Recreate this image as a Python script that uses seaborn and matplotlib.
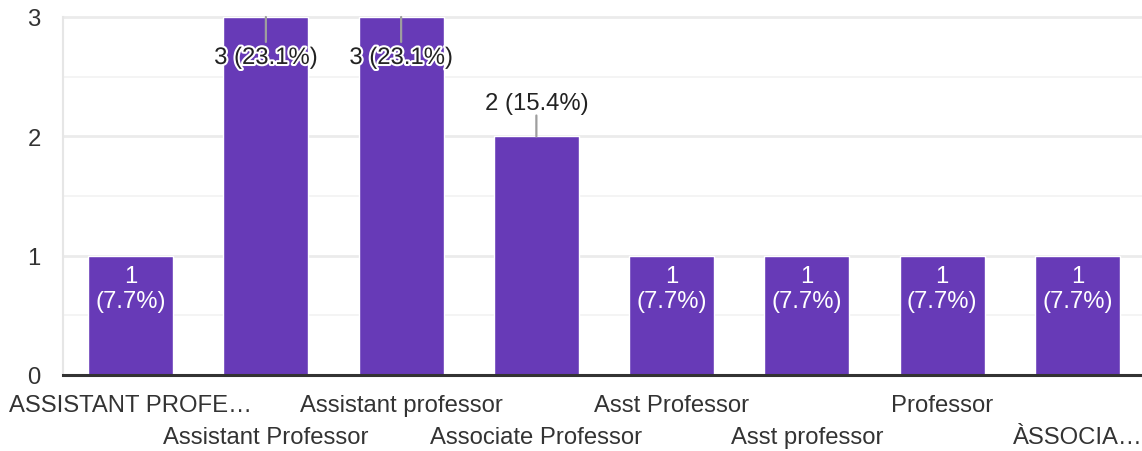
import matplotlib
matplotlib.use("Agg")
import matplotlib.pyplot as plt
import matplotlib.patheffects as pe
import seaborn as sns

categories = ["ASSISTANT PROFE…", "Assistant Professor", "Assistant professor",
              "Associate Professor", "Asst Professor", "Asst professor",
              "Professor", "ÀSSOCIA…"]
counts = [1, 3, 3, 2, 1, 1, 1, 1]
total = sum(counts)

BAR = "#673AB7"
TXT = "#222222"
FS = 17.2

sns.set_theme(style="white")
plt.rcParams["font.family"] = ["Liberation Sans", "DejaVu Sans"]

fig = plt.figure(figsize=(11.42, 4.52), dpi=100)
ax = fig.add_axes([63 / 1142, (452 - 376) / 452, 1082 / 1142, (376 - 18) / 452])

sns.barplot(x=categories, y=counts, color=BAR, width=0.63, saturation=1,
            ax=ax, zorder=3)

ax.set_xlim(-0.5, len(categories) - 0.5)
ax.set_ylim(0, 3)
ax.set_yticks([0, 1, 2, 3])
for y in [0.5, 1.5, 2.5]:
    ax.axhline(y, color="#f3f3f3", lw=1.3, zorder=1)
for y in [1, 2, 3]:
    ax.axhline(y, color="#ebebeb", lw=2, zorder=1, clip_on=False)

for s in ["top", "right"]:
    ax.spines[s].set_visible(False)
ax.spines["left"].set_color("#e6e6e6")
ax.spines["left"].set_linewidth(1.5)
ax.spines["bottom"].set_color("#333333")
ax.spines["bottom"].set_linewidth(2.2)
ax.spines["bottom"].set_zorder(5)

ax.set_xlabel("")
ax.set_ylabel("")
ax.tick_params(axis="both", length=0, labelsize=FS, colors="#333333")
ax.tick_params(axis="y", pad=16)
ax.set_xticks(range(len(categories)))
ax.set_xticklabels(categories)
for i, t in enumerate(ax.xaxis.get_major_ticks()):
    t.set_pad(14 if i % 2 == 0 else 37)

for i, v in enumerate(counts):
    pct = f"({100 * v / total:.1f}%)"
    if v == 1:
        ax.annotate(f"{v}\n{pct}", xy=(i, v), xytext=(0, -7),
                    textcoords="offset points", ha="center", va="top",
                    color="white", fontsize=FS, linespacing=1.15, zorder=6)
    elif v == max(counts):
        ax.annotate("", xy=(i, v), xytext=(0, -18), textcoords="offset points",
                    arrowprops=dict(arrowstyle="-", color="#9e9e9e", lw=1.6,
                                    shrinkA=0, shrinkB=0), zorder=6)
        ax.annotate(f"{v} {pct}", xy=(i, v), xytext=(0, -29.5),
                    textcoords="offset points", ha="center", va="center",
                    color=TXT, fontsize=FS, zorder=7,
                    path_effects=[pe.withStroke(linewidth=3, foreground="white")])
    else:
        ax.annotate("", xy=(i, v), xytext=(0, 15), textcoords="offset points",
                    arrowprops=dict(arrowstyle="-", color="#9e9e9e", lw=1.6,
                                    shrinkA=0, shrinkB=0), zorder=6)
        ax.annotate(f"{v} {pct}", xy=(i, v), xytext=(0, 24),
                    textcoords="offset points", ha="center", va="center",
                    color=TXT, fontsize=FS, zorder=7)

fig.savefig("out.png", dpi=100)
